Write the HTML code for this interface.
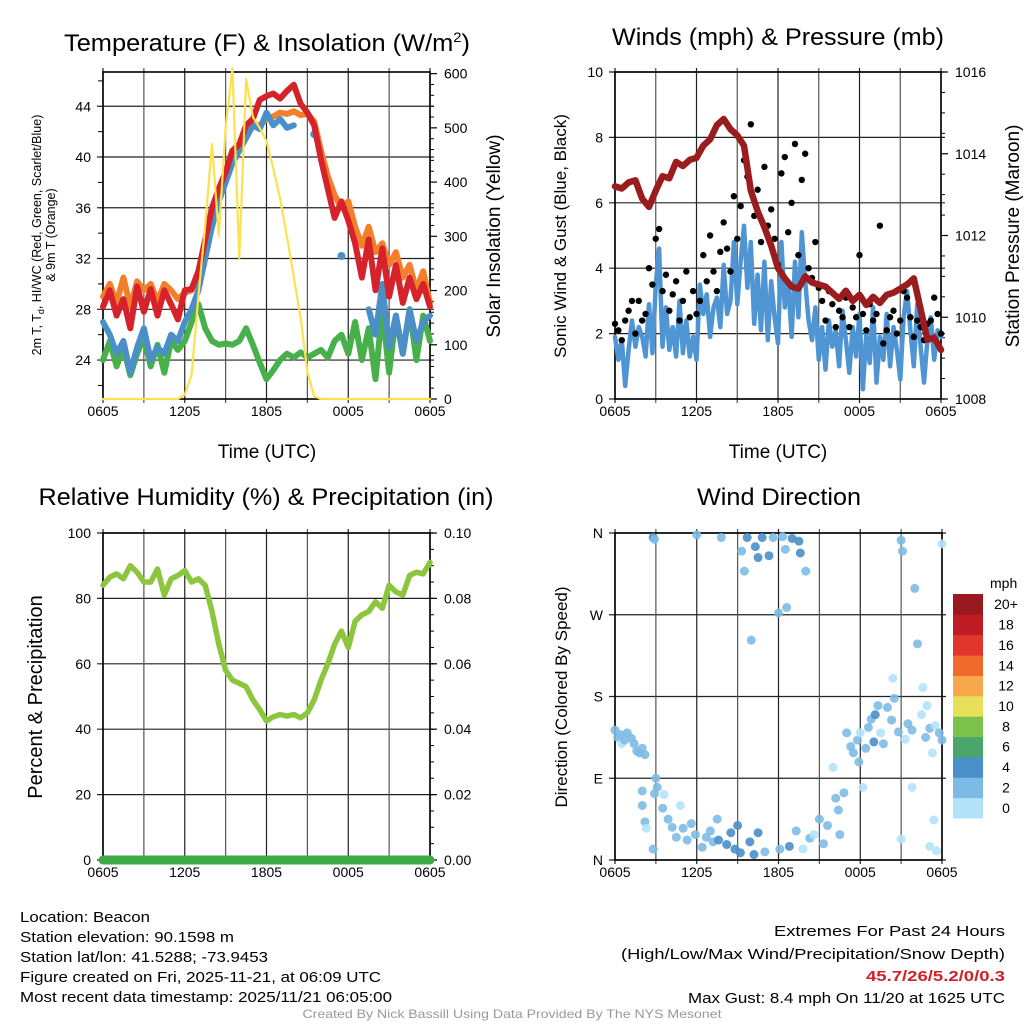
<!DOCTYPE html>
<html><head><meta charset="utf-8"><style>
html,body{margin:0;padding:0;background:#fff;}
svg{display:block;font-family:"Liberation Sans",sans-serif;}
</style></head><body>
<svg id="fig" width="1024" height="1024" viewBox="0 0 1024 1024" xmlns="http://www.w3.org/2000/svg">
<rect width="1024" height="1024" fill="#fff"/>
<g id="p1"></g>
<g id="p2"></g>
<g id="p3"></g>
<g id="p4"></g>
<g id="txt">
<text x="64" y="51" font-size="24" textLength="406" lengthAdjust="spacingAndGlyphs">Temperature (F) &amp; Insolation (W/m<tspan dy="-9" font-size="14">2</tspan><tspan dy="9">)</tspan></text>
<text x="778" y="45" font-size="24" text-anchor="middle" textLength="332" lengthAdjust="spacingAndGlyphs">Winds (mph) &amp; Pressure (mb)</text>
<text x="266" y="505" font-size="24" text-anchor="middle" textLength="455" lengthAdjust="spacingAndGlyphs">Relative Humidity (%) &amp; Precipitation (in)</text>
<text x="779" y="505" font-size="24" text-anchor="middle" textLength="164" lengthAdjust="spacingAndGlyphs">Wind Direction</text>
<text x="267" y="458" font-size="19" text-anchor="middle">Time (UTC)</text>
<text x="778" y="458" font-size="19" text-anchor="middle">Time (UTC)</text>
<text transform="translate(41,235) rotate(-90)" font-size="12.5" text-anchor="middle">2m T, T<tspan dy="3" font-size="9">d</tspan><tspan dy="-3">, HI/WC (Red, Green, Scarlet/Blue)</tspan></text>
<text transform="translate(55,235) rotate(-90)" font-size="12.5" text-anchor="middle">&amp; 9m T (Orange)</text>
<text transform="translate(500,236) rotate(-90)" font-size="19" text-anchor="middle">Solar Insolation (Yellow)</text>
<text transform="translate(566,236) rotate(-90)" font-size="17" text-anchor="middle">Sonic Wind &amp; Gust (Blue, Black)</text>
<text transform="translate(1019,236) rotate(-90)" font-size="19" text-anchor="middle">Station Pressure (Maroon)</text>
<text transform="translate(42,697) rotate(-90)" font-size="20" text-anchor="middle">Percent &amp; Precipitation</text>
<text transform="translate(567,697) rotate(-90)" font-size="17" text-anchor="middle">Direction (Colored By Speed)</text>
<text x="20" y="922" font-size="15" textLength="130" lengthAdjust="spacingAndGlyphs">Location: Beacon</text>
<text x="20" y="942" font-size="15" textLength="214" lengthAdjust="spacingAndGlyphs">Station elevation: 90.1598 m</text>
<text x="20" y="962" font-size="15" textLength="248" lengthAdjust="spacingAndGlyphs">Station lat/lon: 41.5288; -73.9453</text>
<text x="20" y="982" font-size="15" textLength="361" lengthAdjust="spacingAndGlyphs">Figure created on Fri, 2025-11-21, at 06:09 UTC</text>
<text x="20" y="1002" font-size="15" textLength="372" lengthAdjust="spacingAndGlyphs">Most recent data timestamp: 2025/11/21 06:05:00</text>
<text x="1005" y="936" font-size="15" text-anchor="end" textLength="231" lengthAdjust="spacingAndGlyphs">Extremes For Past 24 Hours</text>
<text x="1005" y="959" font-size="15" text-anchor="end" textLength="384" lengthAdjust="spacingAndGlyphs">(High/Low/Max Wind/Precipitation/Snow Depth)</text>
<text x="1005" y="981" font-size="15" font-weight="bold" fill="#d0202a" text-anchor="end" textLength="139" lengthAdjust="spacingAndGlyphs">45.7/26/5.2/0/0.3</text>
<text x="1005" y="1003" font-size="15" text-anchor="end" textLength="317" lengthAdjust="spacingAndGlyphs">Max Gust: 8.4 mph On 11/20 at 1625 UTC</text>
<text x="512" y="1018" font-size="12" fill="#999" text-anchor="middle" textLength="419" lengthAdjust="spacingAndGlyphs">Created By Nick Bassill Using Data Provided By The NYS Mesonet</text>
</g>
</svg>
<script>
const xTickLabels = ["0605","1205","1805","0005","0605"];
const tempTicks = [24,28,32,36,40,44];
const solarTicks = [0,100,200,300,400,500,600];
const windTicks = [0,2,4,6,8,10];
const presTicks = [1008,1010,1012,1014,1016];
const rhTicks = [0,20,40,60,80,100];
const precipTicks = ["0.00","0.02","0.04","0.06","0.08","0.10"];
const dirTicks = ["N","E","S","W","N"];
const cbLabels = ["0","2","4","6","8","10","12","14","16","18","20+"];
const cbColors = ["#b3e3f8","#7dbbe6","#4a8fc8","#4aa56a","#7dc14d","#e8e05a","#f7a84a","#f06a2c","#e0362c","#c01c24","#981a1e"];

const tempRed = [28.2,29.5,27.5,28.8,26.5,29.8,27.8,29.6,27.5,29.5,28.4,27.2,29.5,29.6,31.0,33.5,36,37.5,38.8,40.5,41,42.5,43,44.5,44.8,45,44.6,45.2,45.7,44.2,43.5,42.5,39.8,37.5,35.2,36.5,35.0,33.2,30.5,33.5,29.5,32.8,29,31.5,28.5,30.5,28.8,30,28.2];
const tempOrange = [29,30,28.5,30.5,28.2,30.2,29.5,30,28.6,30,29.5,28.8,29.3,29.5,30.5,33,35.5,37,38.5,40,40.8,41.5,42.5,42.5,43,43.2,43.5,43.4,43.6,43.3,43.4,42.8,40.5,38.5,37,36,36.5,34.5,33,34.5,32.5,33.2,31.5,32.5,30.5,31.5,29.5,31,28.5];
const tempBlue = [27,26,24.5,25.5,23,25,26.5,24,25,24.5,26,25.5,27,28,29.5,32,34.5,36.5,38,39.5,40.5,41.5,42.5,42.2,43.5,42.5,43,42.3,42.5,null,null,41.8,null,null,null,32.2,null,null,null,28,26,30,25,27.5,24.5,28,25.5,27,27.5];
const tempGreen = [24,25.5,23.5,25,22.8,24.5,25.8,23.5,25.2,23,25.5,24.8,25.5,27,28.4,26.5,25.5,25.2,25.3,25.2,25.5,26.5,25.2,23.8,22.5,23.2,24,24.5,24.2,24.6,24.2,24.5,24.8,24.2,25.5,26,24.5,27,24,26.5,22.5,28,23,27.5,24.5,28,24,27.5,25.5];
const solar = [0,0,0,0,0,0,0,0,0,0,0,0,8,45,190,320,470,300,500,610,260,590,520,500,475,425,370,300,225,150,50,5,0,0,0,0,0,0,0,0,0,0,0,0,0,0,0,0,0];
const pressure = [1013.2,1013.15,1013.3,1013.35,1012.9,1012.7,1013.1,1013.45,1013.4,1013.8,1013.7,1013.85,1013.9,1014.2,1014.35,1014.7,1014.85,1014.6,1014.45,1014.2,1013.1,1012.6,1012.2,1011.75,1011.2,1010.95,1010.75,1010.7,1011.0,1010.85,1010.8,1010.75,1010.6,1010.45,1010.65,1010.4,1010.55,1010.3,1010.5,1010.35,1010.55,1010.6,1010.7,1010.8,1010.95,1010.2,1009.45,1009.5,1009.2];
const sonic = [1.9,1.2,1.8,0.4,1.5,2.4,1.6,2.2,1.9,1.3,2.9,1.4,3.5,4.6,1.6,2.8,1.5,2.2,1.3,3.0,1.4,2.4,1.3,1.9,1.2,3.5,2.6,3.2,1.9,2.8,3.1,2.2,4.1,2.6,3.0,4.8,2.9,4.2,5.3,3.4,4.8,2.3,3.8,2.1,4.2,1.8,3.6,2.5,1.7,4.8,2.8,3.6,1.9,4.2,2.5,5.1,3.6,2.4,1.8,2.8,1.2,2.2,0.9,2.4,1.6,2.1,1.0,2.7,1.8,0.8,2.2,1.3,2.6,0.3,2.0,1.1,2.8,0.5,1.9,1.2,2.6,1.0,2.2,1.5,0.6,2.5,3.3,2.1,1.0,2.9,1.6,0.5,1.8,2.5,1.2,2.1,1.9];
const gust = [2.3,2.1,1.8,2.4,2.7,3.0,2.0,3.0,2.4,2.6,4.0,3.5,4.9,5.2,3.3,3.8,2.7,3.2,3.6,2.4,3.0,3.9,2.5,3.3,2.6,3.0,4.4,3.6,5.0,3.9,3.3,4.5,5.4,4.6,3.9,6.2,4.9,5.9,7.3,6.8,8.4,5.6,6.4,4.8,7.1,5.3,5.8,4.9,4.1,6.9,7.4,5.1,6.0,7.8,4.4,6.7,7.5,4.0,3.7,4.8,3.4,3.0,2.4,3.3,2.9,2.2,2.7,2.5,3.1,2.2,2.8,2.5,4.4,2.6,2.1,2.9,2.4,2.6,5.3,1.7,2.1,2.5,2.7,2.0,2.4,3.3,3.1,2.5,1.9,2.4,2.2,1.8,2.3,2.4,3.1,2.6,2.0];
const rh = [84,86.5,87.5,86,90,88,85,85,89,81,86,87,88.5,85,86,84,76,66,58,55,54,53,49,46,42.5,43.8,44.5,44,44.5,43.5,45,49,55,60,66,70,65,73,75,76,79,77,84,82,81,87,88,87.5,91];
const precip = [0,0,0,0,0,0,0,0,0,0,0,0,0,0,0,0,0,0,0,0,0,0,0,0,0,0,0,0,0,0,0,0,0,0,0,0,0,0,0,0,0,0,0,0,0,0,0,0,0];
const dirTime = [0.0,0.2,0.4,0.5,0.7,0.9,1.2,1.4,1.6,1.8,2.0,2.2,2.8,2.9,3.0,2.9,3.1,2.0,2.0,2.2,2.3,2.8,3.5,3.6,3.9,4.2,4.5,4.8,5.0,5.3,5.6,5.9,6.0,6.4,6.7,7.0,7.2,7.5,7.6,7.8,8.2,8.5,8.8,9.0,9.2,9.3,9.5,9.7,9.9,10.0,10.2,10.3,10.5,10.5,10.8,11.0,11.3,11.6,12.0,12.1,12.3,12.5,12.6,12.8,13.0,13.3,13.5,13.6,13.8,14.0,14.3,14.6,15.0,15.3,15.6,16.0,16.2,16.4,16.8,16.5,17.0,17.3,17.5,17.8,17.9,18.0,18.2,18.4,18.6,18.8,19.0,19.1,19.3,19.5,19.7,20.0,20.3,20.5,20.8,21.0,21.1,21.3,21.5,21.8,22.0,22.2,22.5,22.8,23.1,23.3,23.5,23.8,24.0,22.6,22.9,21.8,23.4,21.0,23.6,24.0,23.1,20.4];
const dirDeg = [143,135,138,128,132,140,134,128,120,118,123,116,355,353,90,73,80,76,60,42,35,12,57,72,45,36,25,60,35,22,40,28,358,14,25,32,20,45,22,355,17,30,12,38,8,340,318,355,20,242,6,345,333,30,355,9,335,355,272,12,356,342,278,15,354,32,351,338,12,318,24,28,45,18,38,102,68,55,74,28,140,125,118,132,108,140,80,123,146,155,130,160,170,140,128,168,154,178,141,352,340,133,150,143,299,238,160,135,145,118,148,140,132,190,170,80,44,23,10,348,15,200];
const dirSpeed = [2.5,3,2.5,1.5,2.5,3,2.5,3,3,3,2.5,3,4,3,3,3,2.5,3,3,3,1.5,3,2.5,1.5,3,3,2.5,1.5,3,3,2,2.5,3.5,3,3.5,2.5,3,3.5,5,3,4,5,4,5,4,2.5,2.5,4,5,2.5,4,5,5,4,4,2.5,4,2.5,2.5,3,2,2.5,2.5,4.5,4,3,4.5,4.5,1.5,2.5,2,1.5,2.5,2,2,1.5,2.5,2.5,2.5,3,2.5,2,3,3.5,3,1.5,1.5,2,3,2.5,4,4,3,1.5,3.5,2.5,3,3.5,2.5,2.5,2.5,1.5,2.5,3,2.5,2.5,1.5,2.5,3,1.5,1.5,3,3,1.5,1.5,1,1,1.5,1,1,1,1.5];

const NS = "http://www.w3.org/2000/svg";
function mk(parent, tag, attrs){ const e=document.createElementNS(NS,tag); for(const k in attrs) e.setAttribute(k,attrs[k]); parent.appendChild(e); return e; }

function axisX(L,R){ return t => L + t*(R-L)/24; }
function axisY(T,B,lo,hi){ return v => B - (v-lo)*(B-T)/(hi-lo); }

function frame(g, L,R,T,B, name){
  const sx = axisX(L,R);
  for(let h=0; h<=24; h+=3){
    const x = sx(h);
    const ln = mk(g,'line',{x1:x,x2:x,y1:T-4,y2:B+4,stroke:(h%6===0?'#222':'#555'),'stroke-width':1.2});
    
    
  }
  for(let i=0;i<xTickLabels.length;i++){
    const t = mk(g,'text',{x:sx(i*6),y:B+17,'font-size':14,'text-anchor':'middle'});
    t.textContent = xTickLabels[i];
    
    
  }
  const r = mk(g,'rect',{x:L,y:T,width:R-L,height:B-T,fill:'none',stroke:'#000','stroke-width':1.6});
  
  
}
function hgrid(g,L,R,y,lab){
  const ln = mk(g,'line',{x1:L-6,x2:R+4,y1:y,y2:y,stroke:'#222','stroke-width':1.2});
  
  
  if(lab!==null){
    const t = mk(g,'text',{x:L-12,y:y+5,'font-size':14,'text-anchor':'end'});
    t.textContent = lab;
    
    
  }
}
function rlabel(g,R,y,lab){
  mk(g,'line',{x1:R,x2:R+7,y1:y,y2:y,stroke:'#000','stroke-width':1.2});
  const t = mk(g,'text',{x:R+14,y:y+5,'font-size':14});
  t.textContent = lab;
  
  
}
function series(g, vals, step, sx, sy, color, w, name){
  let d=''; let pen=false;
  for(let i=0;i<vals.length;i++){
    const v=vals[i];
    if(v===null||v===undefined){ pen=false; continue; }
    const x=sx(i*step), y=sy(v);
    const prevNull = i===0 || vals[i-1]===null;
    const nextNull = i===vals.length-1 || vals[i+1]===null;
    if(prevNull && nextNull){
      const c = mk(g,'circle',{cx:x,cy:y,r:w/2+1,fill:color});
      
      
    }
    d += (pen?'L':'M')+x.toFixed(1)+','+y.toFixed(1);
    pen=true;
  }
  const p = mk(g,'path',{d:d,fill:'none',stroke:color,'stroke-width':w,'stroke-linejoin':'round','stroke-linecap':'round'});
  
  
}

// Panel 1
(function(){
  const g=document.getElementById('p1');
  const L=103,R=430,T=72,B=399;
  const sx=axisX(L,R), sy=axisY(T,B,20.93,46.7), ss=axisY(T,B,0,603);
  for(const v of tempTicks) hgrid(g,L,R,sy(v),String(v));
  for(let v=22; v<=46; v+=2) if(v%4!==0) mk(g,'line',{x1:L-5,x2:L,y1:sy(v),y2:sy(v),stroke:'#000'});
  frame(g,L,R,T,B,'temperature');
  for(const v of solarTicks) rlabel(g,R,ss(v),String(v));
  for(let v=20; v<600; v+=20) if(v%100!==0) mk(g,'line',{x1:R,x2:R+4,y1:ss(v),y2:ss(v),stroke:'#000'});
  series(g,tempGreen,0.5,sx,sy,'#48b04a',6,'dewpoint-line');
  series(g,tempOrange,0.5,sx,sy,'#f47f2b',6,'temp-9m-line');
  series(g,tempBlue,0.5,sx,sy,'#4a8fc8',6,'windchill-line');
  series(g,tempRed,0.5,sx,sy,'#d6222a',6,'temp-2m-line');
  series(g,solar,0.5,sx,ss,'#fde14f',2.2,'solar-line');
})();

// Panel 2
(function(){
  const g=document.getElementById('p2');
  const L=615,R=941,T=72,B=399;
  const sx=axisX(L,R), sy=axisY(T,B,0,10), sp=axisY(T,B,1008,1016);
  for(const v of windTicks) hgrid(g,L,R,sy(v),String(v));
  frame(g,L,R,T,B,'winds');
  for(const v of presTicks) rlabel(g,R,sp(v),String(v));
  for(let v=1008.5; v<1016; v+=0.5) if(v%2!==0) mk(g,'line',{x1:R,x2:R+4,y1:sp(v),y2:sp(v),stroke:'#000'});
  series(g,sonic,0.25,sx,sy,'#4f95d3',4.5,'sonic-wind-line');
  for(let i=0;i<gust.length;i++){
    const c=mk(g,'circle',{cx:sx(i*0.25),cy:sy(gust[i]),r:3.2,fill:'#000'});
    
    
  }
  series(g,pressure,0.5,sx,sp,'#9a1c1e',6.5,'pressure-line');
})();

// Panel 3
(function(){
  const g=document.getElementById('p3');
  const L=103,R=430,T=533,B=860;
  const sx=axisX(L,R), sy=axisY(T,B,0,100), sq=axisY(T,B,0,0.1);
  for(const v of rhTicks) hgrid(g,L,R,sy(v),String(v));
  frame(g,L,R,T,B,'humidity');
  for(let i=0;i<precipTicks.length;i++) rlabel(g,R,sy(i*20),precipTicks[i]);
  for(let v=5; v<100; v+=5) if(v%20!==0) mk(g,'line',{x1:R,x2:R+4,y1:sy(v),y2:sy(v),stroke:'#000'});
  series(g,rh,0.5,sx,sy,'#8cc63f',5.5,'rh-line');
  series(g,precip,0.5,sx,sq,'#3eaa48',9,'precip-line');
})();

// Panel 4
(function(){
  const g=document.getElementById('p4');
  const L=615,R=942,T=533,B=860;
  const sx=axisX(L,R), sy=axisY(T,B,0,360);
  for(let i=0;i<dirTicks.length;i++) hgrid(g,L,R,sy(i*90),dirTicks[i]);
  frame(g,L,R,T,B,'wind-direction');
  for(let i=0;i<dirTime.length;i++){
    const ci=Math.min(10,Math.floor(dirSpeed[i]/2));
    const c=mk(g,'circle',{cx:sx(dirTime[i]),cy:sy(dirDeg[i]),r:4.5,fill:cbColors[ci],'fill-opacity':0.9});
    
    
  }
  const cb=mk(g,'g',{});
  
  
  const t0=mk(cb,'text',{x:990,y:588,'font-size':14});
  t0.textContent='mph';
  
  
  const h=(818-594)/cbColors.length;
  for(let i=0;i<cbColors.length;i++){
    const y=818-(i+1)*h;
    const r=mk(cb,'rect',{x:953,y:y,width:30,height:h+0.5,fill:cbColors[i]});
    
    
    const t=mk(cb,'text',{x:1006,y:y+h/2+5,'font-size':14,'text-anchor':'middle'});
    t.textContent=cbLabels[i];
    
    
  }
})();
</script>
</body></html>
